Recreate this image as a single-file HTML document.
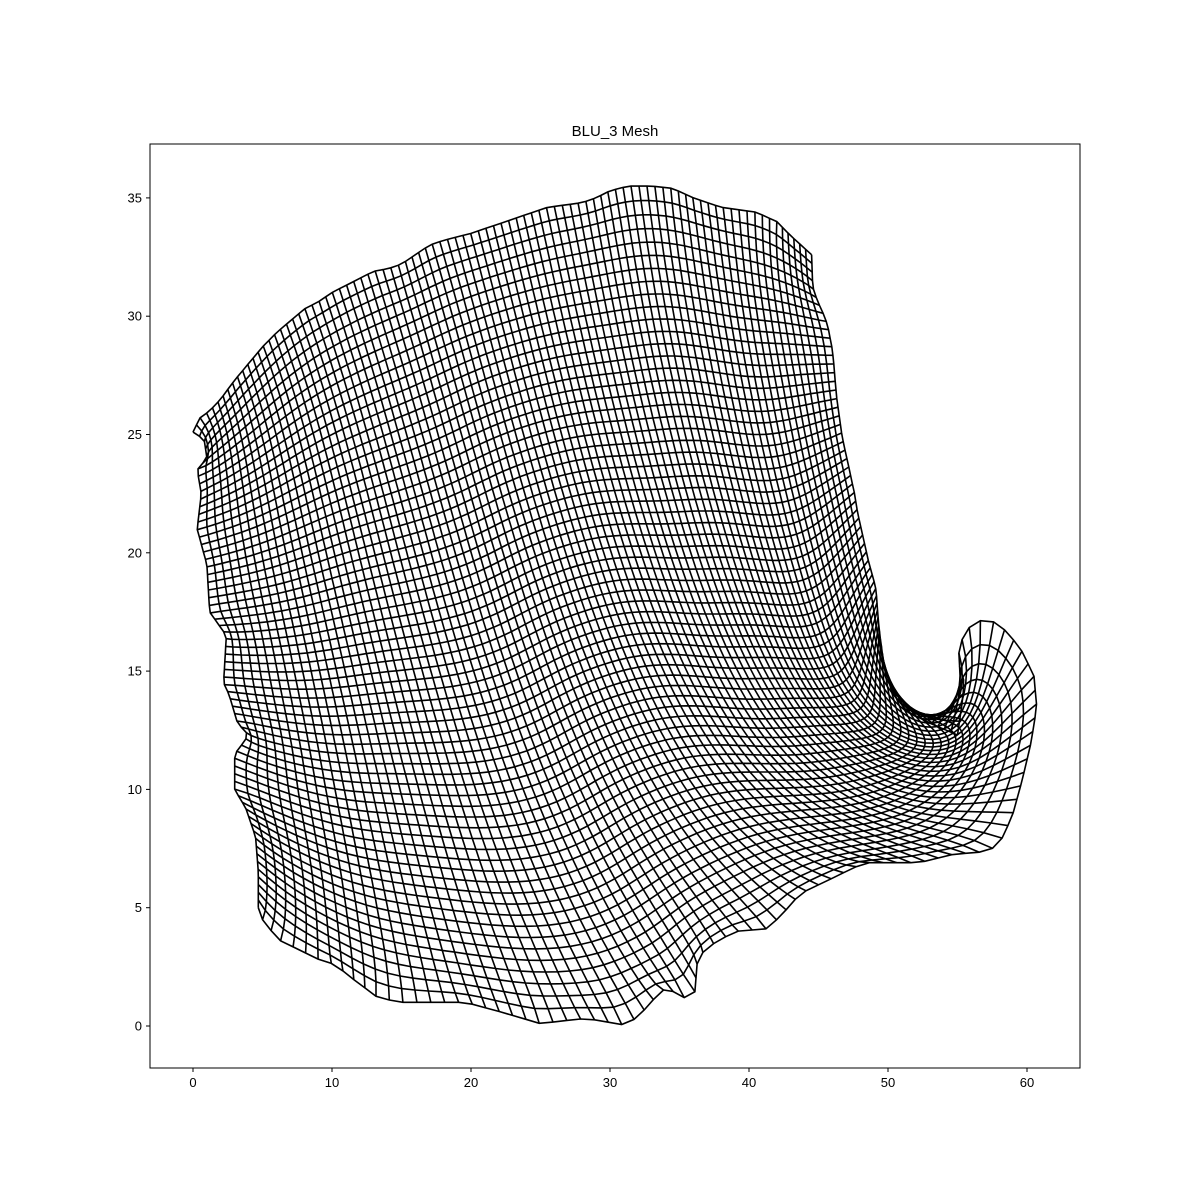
<!DOCTYPE html>
<html><head><meta charset="utf-8"><style>
html,body{margin:0;padding:0;background:#fff;}
svg{display:block;font-family:"Liberation Sans","DejaVu Sans",sans-serif;}
</style></head><body>
<svg id="chart" width="1200" height="1200" viewBox="0 0 1200 1200">
<rect x="0" y="0" width="1200" height="1200" fill="#fff"/>
<text x="615" y="136" font-size="15" text-anchor="middle" fill="#000">BLU_3 Mesh</text>
<g id="mesh"></g>
<g id="axes"></g>
</svg>
<script>
// Boundary curves of the mesh (data units)
const bottomX = [4.7,4.6,5.2,6.3,7.7,9.1,10.2,11.7,13.3,14.9,19.6,22.1,25,27.8,29.3,30.6,31.4,32.5,33.4,34.2,34.9,35.8,36.1,36.3,37.2,39,41.2,42.2,43.7,48.3,52.2,53.6,55,56.3,57.5,58.3,59,59.7,60.3,60.7,60.5,59.5,58,57,56,55.3,55,55.5,55.3,55];
const bottomY = [5,4.9,4.3,3.6,3.2,2.8,2.6,1.9,1.2,1.0,1.0,0.6,0.1,0.3,0.25,0.05,0.1,0.7,1.3,1.7,1.2,1.2,1.4,2.9,3.4,4.0,4.1,4.6,5.6,6.9,6.9,7.1,7.3,7.3,7.5,8,9,10.5,12,13.5,14.8,16,17,17.2,17,16.3,15.5,14.5,13.5,12.3];
const topX = [0,0.5,1.2,2,3,4,5,6,7,8,9,10,11,12,13,14,15,16,17,18,20,22,24,25.5,28,29,30,31.3,33,34.5,36,38,40.5,42,43,44.5];
const topY = [25.1,25.7,26,26.5,27.3,28,28.7,29.3,29.8,30.3,30.6,31,31.3,31.6,31.9,32,32.2,32.6,33,33.2,33.5,33.9,34.3,34.6,34.8,35,35.3,35.5,35.5,35.4,35,34.6,34.4,34,33.4,32.6];
const leftX = [4.7,4.7,4.5,3.8,3,3,3.4,4,3.2,2.6,2.2,2.4,1.8,1.2,1,0.3,0.6,0.3,1,0.8,0];
const leftY = [5,6.5,8,9.2,10,11.5,11.8,12.3,12.8,14,14.5,16.5,17,17.5,19.5,21,22.5,23.5,24,24.8,25.1];
// right edge: lower part (rows converge) then upper part
const rightLowX = [55,53,51,50,49.4];
const rightLowY = [12.3,12.8,13.4,14.2,15.5];
const rightHighX = [49.4,49.2,49,48,47.5,47,46.5,46.2,46,45.5,44.6,44.5];
const rightHighY = [15.5,17,19.4,21.5,22.5,24,25.5,27,28.8,30,31,32.6];
const xTicks = [0,10,20,30,40,50,60];
const yTicks = [0,5,10,15,20,25,30,35];
const NCOLS = 90, NROWS = 66, LOW_FRAC = 0.45, UNIFORM_BLEND = 0.8;

const L=150,R=1080,T=144,B=1068;
const sx = v => 193 + v*13.9;
const sy = v => 1026 - v*23.66;
const NS="http://www.w3.org/2000/svg";

function curveP(p){
  const c=[0];
  for(let i=1;i<p.length;i++)c.push(c[i-1]+Math.hypot(p[i][0]-p[i-1][0],p[i][1]-p[i-1][1]));
  const tot=c[c.length-1];
  return t=>{
    const d=t*tot;let i=1;
    while(i<p.length-1&&c[i]<d)i++;
    const f=(d-c[i-1])/((c[i]-c[i-1])||1);
    return [p[i-1][0]+(p[i][0]-p[i-1][0])*f,p[i-1][1]+(p[i][1]-p[i-1][1])*f];
  };
}
const curve=(xs,ys)=>curveP(xs.map((x,i)=>[sx(x),sy(ys[i])]));
const Bc=curve(bottomX,bottomY),Tc=curve(topX,topY),Lc=curve(leftX,leftY);
const RLc=curve(rightLowX,rightLowY),RHc=curve(rightHighX,rightHighY);
const Rc=v=>v<LOW_FRAC?RLc(v/LOW_FRAC):RHc((v-LOW_FRAC)/(1-LOW_FRAC));
const B0=Bc(0),B1=Bc(1),T0=Tc(0),T1=Tc(1);
function P(u,v){
  const b=Bc(u),t=Tc(u),l=Lc(v),r=Rc(v);
  const out=[];
  for(let k=0;k<2;k++){
    out.push((1-v)*b[k]+v*t[k]+(1-u)*l[k]+u*r[k]
      -((1-u)*(1-v)*B0[k]+u*(1-v)*B1[k]+(1-u)*v*T0[k]+u*v*T1[k]));
  }
  return out;
}
const grid=[];
for(let j=0;j<=NROWS;j++){const row=[];for(let i=0;i<=NCOLS;i++)row.push(P(i/NCOLS,j/NROWS));grid.push(row);}
function laplace(n,w){
  for(let it=0;it<n;it++){
    for(let j=1;j<NROWS;j++)for(let i=1;i<NCOLS;i++){
      for(let k=0;k<2;k++){
        const avg=(grid[j][i-1][k]+grid[j][i+1][k]+grid[j-1][i][k]+grid[j+1][i][k])/4;
        grid[j][i][k]+=w*(avg-grid[j][i][k]);
      }
    }
  }
}
laplace(600,1.6);
for(let it=0;it<1500;it++){
  for(let j=1;j<NROWS;j++)for(let i=1;i<NCOLS;i++){
    const g=grid;
    const xe=(g[j][i+1][0]-g[j][i-1][0])/2, ye=(g[j][i+1][1]-g[j][i-1][1])/2;
    const xn=(g[j+1][i][0]-g[j-1][i][0])/2, yn=(g[j+1][i][1]-g[j-1][i][1])/2;
    const a=xn*xn+yn*yn, b=xe*xn+ye*yn, c=xe*xe+ye*ye;
    const den=2*(a+c); if(den<1e-9)continue;
    for(let k=0;k<2;k++){
      const cross=g[j+1][i+1][k]-g[j+1][i-1][k]-g[j-1][i+1][k]+g[j-1][i-1][k];
      const nv=(a*(g[j][i+1][k]+g[j][i-1][k])+c*(g[j+1][i][k]+g[j-1][i][k])-0.5*b*cross)/den;
      g[j][i][k]+=0.9*(nv-g[j][i][k]);
    }
  }
}
// redistribute nodes along each column towards uniform spacing
for(let i=1;i<=NCOLS;i++){
  const col=grid.map(r=>r[i].slice());
  const f=curveP(col);
  for(let j=1;j<NROWS;j++){
    const q=f(j/NROWS);
    for(let k=0;k<2;k++)grid[j][i][k]=UNIFORM_BLEND*q[k]+(1-UNIFORM_BLEND)*col[j][k];
  }
}
// light smoothing to remove ripples
laplace(25,0.8);
const mesh=document.getElementById('mesh');
for(let j=0;j<=NROWS;j++){
  const pl=document.createElementNS(NS,'polyline');
  pl.setAttribute('points',grid[j].map(p=>p[0].toFixed(1)+','+p[1].toFixed(1)).join(' '));
  pl.setAttribute('fill','none');pl.setAttribute('stroke','#000');pl.setAttribute('stroke-width','1.6');
  
  
  mesh.appendChild(pl);
}
for(let i=0;i<=NCOLS;i++){
  const pl=document.createElementNS(NS,'polyline');
  pl.setAttribute('points',grid.map(r=>r[i][0].toFixed(1)+','+r[i][1].toFixed(1)).join(' '));
  pl.setAttribute('fill','none');pl.setAttribute('stroke','#000');pl.setAttribute('stroke-width','1.6');
  
  
  mesh.appendChild(pl);
}
const axes=document.getElementById('axes');
const frame=document.createElementNS(NS,'rect');
frame.setAttribute('x',L);frame.setAttribute('y',T);frame.setAttribute('width',R-L);frame.setAttribute('height',B-T);
frame.setAttribute('fill','none');frame.setAttribute('stroke','#000');frame.setAttribute('stroke-width','1');


axes.appendChild(frame);
xTicks.forEach(v=>{
  const x=sx(v);
  const ln=document.createElementNS(NS,'line');
  ln.setAttribute('x1',x);ln.setAttribute('x2',x);ln.setAttribute('y1',B);ln.setAttribute('y2',B+4);ln.setAttribute('stroke','#000');
  
  
  axes.appendChild(ln);
  const t=document.createElementNS(NS,'text');
  t.setAttribute('x',x);t.setAttribute('y',B+19);t.setAttribute('font-size','13');t.setAttribute('text-anchor','middle');
  t.textContent=v;
  
  
  axes.appendChild(t);
});
yTicks.forEach(v=>{
  const y=sy(v);
  const ln=document.createElementNS(NS,'line');
  ln.setAttribute('x1',L-4);ln.setAttribute('x2',L);ln.setAttribute('y1',y);ln.setAttribute('y2',y);ln.setAttribute('stroke','#000');
  
  
  axes.appendChild(ln);
  const t=document.createElementNS(NS,'text');
  t.setAttribute('x',L-8);t.setAttribute('y',y+4.5);t.setAttribute('font-size','13');t.setAttribute('text-anchor','end');
  t.textContent=v;
  
  
  axes.appendChild(t);
});
</script>
</body></html>
